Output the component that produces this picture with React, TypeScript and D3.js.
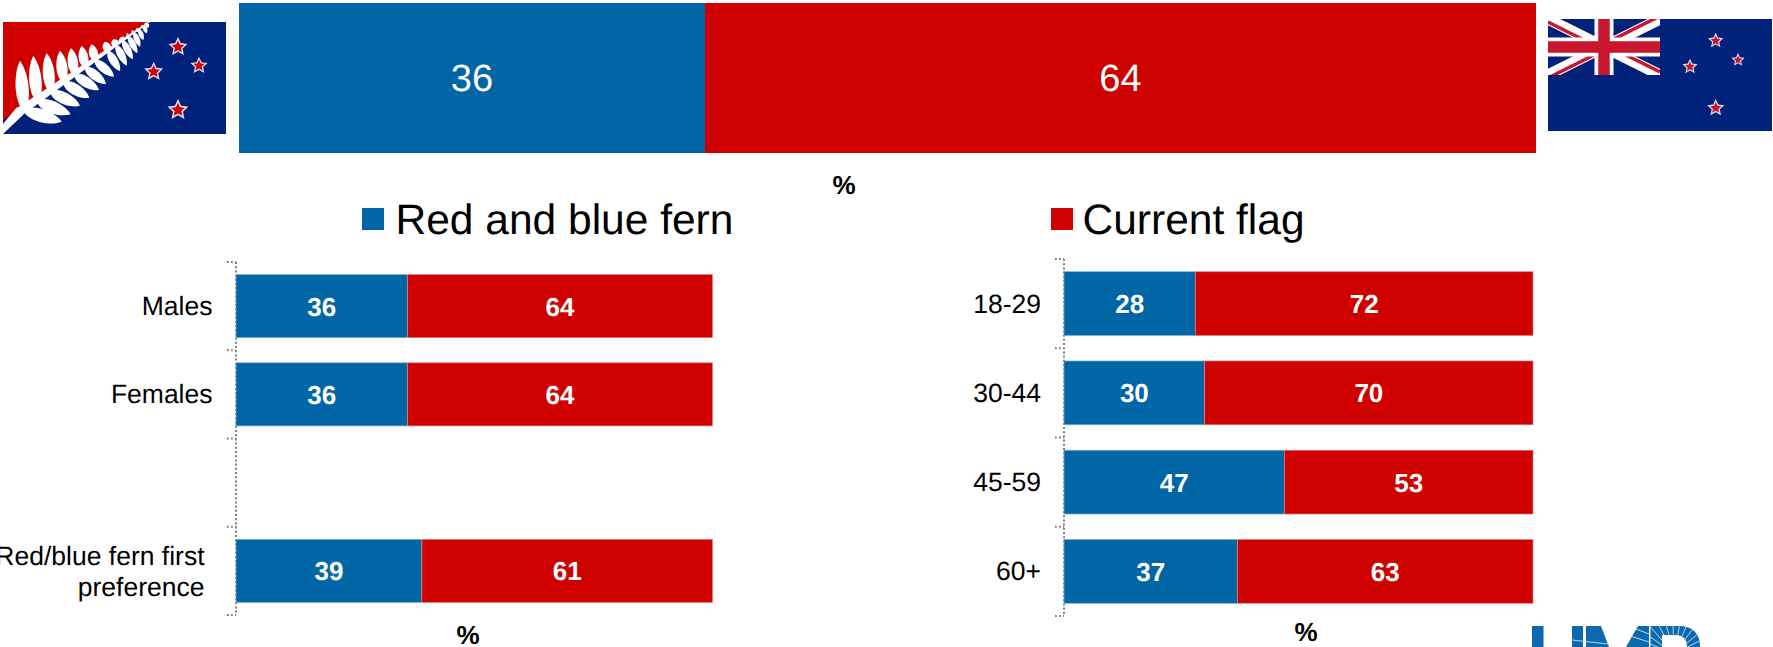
import React from "react";
import * as d3 from "d3";

const BLUE = "#0066A6";
const RED = "#CE0000";
const LOGO = "#0A69AD";
const FONT = "'Liberation Sans', Arial, sans-serif";

const seriesNames = ["Red and blue fern", "Current flag"];
const overallValues = [36, 64];
const leftCategories = ["Males", "Females", "", "Red/blue fern first|preference"];
const leftFern = [36, 36, null, 39];
const leftCurrent = [64, 64, null, 61];
const rightCategories = ["18-29", "30-44", "45-59", "60+"];
const rightFern = [28, 30, 47, 37];
const rightCurrent = [72, 70, 53, 63];

const starPositions = [
  { x: 178, y: 47, r: 10 },
  { x: 199, y: 65.7, r: 9 },
  { x: 153.7, y: 71.7, r: 10 },
  { x: 178, y: 110, r: 11 },
];
const currentStarPositions = [
  { x: 1715.7, y: 40.7, r: 8 },
  { x: 1738, y: 60, r: 7 },
  { x: 1690, y: 66.7, r: 8 },
  { x: 1715.7, y: 108, r: 9 },
];
// fern frond tips (pixels of the page)
const upperTips: [number, number][] = [
  [20, 60.7], [33.3, 55.7], [46.7, 53.3], [60, 50.7], [71, 48.3], [81.7, 46], [91.7, 44.3], [105, 41.7],
  [113.3, 39.3], [120, 37.7], [126, 36], [131.7, 33.3], [136.7, 31.7], [141.7, 28.3], [145, 25],
];
const lowerTips: [number, number][] = [
  [61.7, 121.7], [70.7, 114.3], [80, 105.7], [89.3, 97.7], [99, 90], [106, 84], [114, 76.7], [120, 71],
  [126.7, 65.7], [132.7, 59.3], [137.3, 53.3], [140, 46.7], [143.3, 40], [146.7, 33.3], [148, 28],
];

function starPath(cx: number, cy: number, r: number) {
  const pts: string[] = [];
  for (let i = 0; i < 10; i++) {
    const rad = i % 2 === 0 ? r : r * 0.48;
    const a = -Math.PI / 2 + (i * Math.PI) / 5;
    pts.push(`${cx + rad * Math.cos(a)},${cy + rad * Math.sin(a)}`);
  }
  return "M" + pts.join("L") + "Z";
}

function Stars({ list, fill }: { list: { x: number; y: number; r: number }[]; fill: string }) {
  return (
    <g>
      {list.map((s, i) => (
        <g key={i}>
          <path d={starPath(s.x, s.y, s.r)} fill="#dcdfee" />
          <path d={starPath(s.x, s.y, s.r * 0.66)} fill={fill} />
        </g>
      ))}
    </g>
  );
}

function leafPath(bx: number, by: number, tx: number, ty: number, thick: number) {
  const dx = tx - bx, dy = ty - by;
  const L = Math.hypot(dx, dy) || 1;
  const n = thick * 0.67;
  const nx = (-dy / L) * n, ny = (dx / L) * n;
  const p = (f: number, s: number) => `${bx + dx * f + nx * s},${by + dy * f + ny * s}`;
  return `M${bx},${by} C${p(0.12, 1)} ${p(0.72, 1)} ${tx},${ty} C${p(0.72, -1)} ${p(0.12, -1)} ${bx},${by}Z`;
}

function FernFlag() {
  const x0 = 3, y0 = 22, x1 = 226, y1 = 134;
  const stemY = (x: number) => 113.3 - (x - 20) * 0.709;
  return (
    <g filter="url(#soft)">
      <clipPath id="fernClip"><rect x={x0} y={y0} width={x1 - x0} height={y1 - y0} /></clipPath>
      <rect x={x0} y={y0} width={x1 - x0} height={y1 - y0} fill="#04207A" />
      <polygon points={`${x0},${y0} 149,${y0} ${x0},${y1 - 14}`} fill="#D00000" />
      <g clipPath="url(#fernClip)">
        <path d={`M${x0},${y1} L${x0},${y1 - 10} L17,107 L24,114 Z`} fill="#fff" />
        <path d={`M17,108 L148,22 L150,22 L24,114 Z`} fill="#fff" />
        {upperTips.map(([tx, ty], i) => {
          const t = i / (upperTips.length - 1);
          const bx = tx + 4 - t * 2;
          const thick = 13 * (1 - 0.72 * t);
          const [lx, ly] = lowerTips[i];
          return (
            <g key={i}>
              <path d={leafPath(bx, stemY(bx), tx, ty, thick)} fill="#fff" />
              <path d={leafPath(bx, stemY(bx), lx, ly, thick)} fill="#fff" />
            </g>
          );
        })}
      </g>
      <Stars list={starPositions} fill="#D00000" />
    </g>
  );
}

function CurrentFlag() {
  const x0 = 1548, y0 = 19, x1 = 1772, y1 = 131;
  const cx1 = 1660, cy1 = 75;
  const mx = (x0 + cx1) / 2, my = (y0 + cy1) / 2;
  return (
    <g filter="url(#soft)">
      <rect x={x0} y={y0} width={x1 - x0} height={y1 - y0} fill="#04207A" />
      <clipPath id="jackClip"><rect x={x0} y={y0} width={cx1 - x0} height={cy1 - y0} /></clipPath>
      <g clipPath="url(#jackClip)">
        <path d={`M${x0},${y0}L${cx1},${cy1}M${cx1},${y0}L${x0},${cy1}`} stroke="#fff" strokeWidth={11} />
        <path d={`M${x0},${y0 + 3}L${mx},${my + 3}M${cx1},${y0 - 3}L${mx},${my - 3}M${x0},${cy1 + 3}L${mx},${my + 3}M${cx1},${cy1 - 3}L${mx},${my - 3}`} stroke="#C8182E" strokeWidth={3.5} />
        <path d={`M${mx},${y0}V${cy1}M${x0},${my}H${cx1}`} stroke="#fff" strokeWidth={19} />
        <path d={`M${mx},${y0}V${cy1}M${x0},${my}H${cx1}`} stroke="#C8182E" strokeWidth={11.5} />
      </g>
      <Stars list={currentStarPositions} fill="#C8182E" />
    </g>
  );
}

function Logo() {
  const rays = d3.range(-80, 85, 13);
  const ox = 1674, oy = 654;
  const rShape = "M1650.5,626 H1678 Q1700,626 1700,647 H1687 Q1687,635 1675,635 H1662 V647 H1650.5 Z";
  return (
    <g filter="url(#soft)">
      <clipPath id="rClip"><path d={rShape} /></clipPath>
      <rect x={1532} y={626} width={11.5} height={21} fill={LOGO} />
      <rect x={1572} y={626} width={11} height={21} fill={LOGO} />
      <path d="M1586,626 H1601 L1609,647 H1586 Z" fill={LOGO} />
      <path d="M1626,647 L1638,626 H1649 V647 Z" fill={LOGO} />
      <path d={rShape} fill={LOGO} />
      <g stroke="#cfe2f0" strokeWidth={0.9}>
        <g clipPath="url(#rClip)">
          {rays.map((a) => {
            const r = (a * Math.PI) / 180;
            return <line key={a} x1={ox + 15 * Math.sin(r)} y1={oy - 15 * Math.cos(r)} x2={ox + 45 * Math.sin(r)} y2={oy - 45 * Math.cos(r)} />;
          })}
        </g>
        <line x1={1572} y1={640} x2={1608} y2={644} />
        <line x1={1630} y1={636} x2={1649} y2={642} />
        <line x1={1636} y1={629} x2={1649} y2={634} />
      </g>
    </g>
  );
}

function Panel({
  categories, a, b, x0, x1, y0, y1, labelX,
}: {
  categories: string[]; a: (number | null)[]; b: (number | null)[];
  x0: number; x1: number; y0: number; y1: number; labelX: number;
}) {
  const x = d3.scaleLinear().domain([0, 100]).range([x0, x1]);
  const y = d3.scaleBand<number>().domain(d3.range(categories.length)).range([y0, y1]).paddingInner(0.285).paddingOuter(0.1425);
  const step = y.step();
  const ticks = d3.range(categories.length + 1).map((i) => y0 + i * step);
  return (
    <g>
      <line x1={x0} x2={x0} y1={y0} y2={y1} stroke="#808080" strokeWidth={2} strokeDasharray="2 2.2" />
      {ticks.map((t, i) => (
        <line key={i} x1={x0 - 9} x2={x0} y1={t} y2={t} stroke="#808080" strokeWidth={1.8} strokeDasharray="1.8 2.2" />
      ))}
      {categories.map((c, i) => {
        const top = y(i)!;
        const h = y.bandwidth();
        const va = a[i], vb = b[i];
        const lines = c.split("|");
        const multi = lines.length > 1;
        return (
          <g key={i}>
            {va != null && vb != null && (
              <g>
                <rect x={x(0)} y={top} width={x(va) - x(0)} height={h} fill={BLUE} stroke="#7fb0d0" strokeWidth={0.7} />
                <rect x={x(va)} y={top} width={x(va + vb) - x(va)} height={h} fill={RED} stroke="#e58080" strokeWidth={0.7} />
                <text x={(x(0) + x(va)) / 2} y={top + h / 2 + 9.5} textAnchor="middle" fontSize={26} fontWeight={700} fill="#fff">{va}</text>
                <text x={(x(va) + x(va + vb)) / 2} y={top + h / 2 + 9.5} textAnchor="middle" fontSize={26} fontWeight={700} fill="#fff">{vb}</text>
              </g>
            )}
            {lines.map((l, j) => (
              <text key={j} x={multi ? labelX - 8 : labelX} y={top + h / 2 + (multi ? -6 + j * 31 : 9)} textAnchor="end" fontSize={26.5} fill="#000">{l}</text>
            ))}
          </g>
        );
      })}
    </g>
  );
}

export default function App() {
  const topX = d3.scaleLinear().domain([0, 100]).range([239, 1536]);
  const topLeft = topX(0), split = Math.floor(topX(overallValues[0])), topRight = topX(100);
  return (
    <svg width={1773} height={647} viewBox="0 0 1773 647" fontFamily={FONT} textRendering="geometricPrecision" style={{ position: "absolute", left: 0, top: 0, display: "block" }}>
      <defs>
        <filter id="soft" x="-2%" y="-2%" width="104%" height="104%"><feGaussianBlur stdDeviation="0.5" /></filter>
      </defs>
      <rect width={1773} height={647} fill="#fff" />
      <FernFlag />
      <CurrentFlag />
      <Logo />

      <rect x={topLeft} y={3} width={split - topLeft} height={150} fill={BLUE} />
      <rect x={split} y={3} width={topRight - split} height={150} fill={RED} />
      <text x={(topLeft + split) / 2} y={91} textAnchor="middle" fontSize={38} fill="#fff">{overallValues[0]}</text>
      <text x={(split + topRight) / 2} y={91} textAnchor="middle" fontSize={38} fill="#fff">{overallValues[1]}</text>
      <text x={844} y={194} textAnchor="middle" fontSize={26} fontWeight={700}>%</text>

      <rect x={362} y={208} width={22} height={22} fill={BLUE} />
      <text x={395.5} y={234} fontSize={42.5}>{seriesNames[0]}</text>
      <rect x={1051} y={208} width={22} height={22} fill={RED} />
      <text x={1082.5} y={234} fontSize={42.5}>{seriesNames[1]}</text>

      <Panel categories={leftCategories} a={leftFern} b={leftCurrent} x0={236} x1={712.5} y0={262} y1={615} labelX={212.5} />
      <Panel categories={rightCategories} a={rightFern} b={rightCurrent} x0={1064} x1={1533} y0={259} y1={616} labelX={1041} />

      <text x={468} y={644} textAnchor="middle" fontSize={26} fontWeight={700}>%</text>
      <text x={1306} y={641} textAnchor="middle" fontSize={26} fontWeight={700}>%</text>
    </svg>
  );
}
